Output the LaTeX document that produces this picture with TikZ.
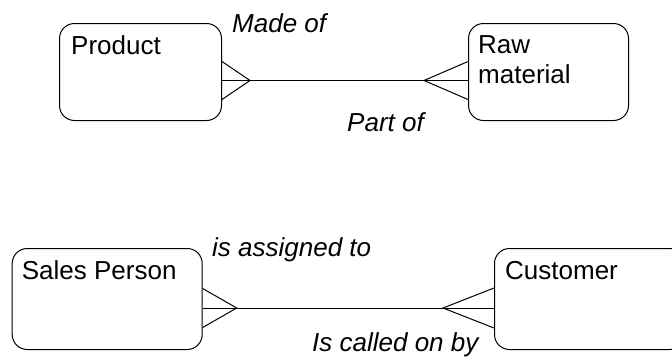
\documentclass[tikz,border=0pt]{standalone}
\usepackage{fontspec}
\setmainfont{Liberation Sans}
\usetikzlibrary{calc}
\begin{document}
\begin{tikzpicture}[x=1pt,y=-1pt,
  entity/.style={draw, rounded corners=15pt, line width=1pt, inner sep=0pt,
    anchor=north west, minimum width=#1},
  entity/.default=162pt,
  etext/.style={anchor=base west, inner sep=0pt, align=left,
    font=\fontsize{26}{30}\selectfont},
  rel/.style={anchor=base west, inner sep=0pt,
    font=\fontsize{26}{30}\selectfont\itshape},
  link/.style={line width=1pt, line join=miter}]
  \useasboundingbox (0,0) rectangle (672,360);
  \clip (0,0) rectangle (672,360);

  % entities
  \node[entity=162pt, minimum height=97pt]  (prod)  at (59,23)    {};
  \node[entity=160pt, minimum height=97pt]  (raw)   at (468,23)   {};
  \node[entity=190pt, minimum height=101pt] (sales) at (11.7,248) {};
  \node[entity=190pt, minimum height=101pt] (cust)  at (494,248)  {};

  % entity names
  \node[etext] (prodname)  at (71,54)     {Product};
  \node[etext] (rawname)   at (478,53.3)  {Raw};
  \node[etext] (rawname2)  at (478,83.3)  {material};
  \node[etext] (salesname) at (21.7,279.3) {Sales Person};
  \node[etext] (custname)  at (505,279.3) {Customer};

  % relationship names
  \node[rel] (madeof)   at (232,32.3)   {Made of};
  \node[rel] (partof)   at (347,131.7)  {Part of};
  \node[rel] (assigned) at (212,256.7)  {is assigned to};
  \node[rel] (calledon) at (312,351.7)  {Is called on by};

  % attachment points of the connectors
  \coordinate (pa) at ($(prod.east)+(0,8.5)$);
  \coordinate (rb) at ($(raw.west)+(0,8.5)$);
  \coordinate (sa) at ($(sales.east)+(0,9)$);
  \coordinate (cb) at ($(cust.west)+(0,9)$);

  % many-to-many: product / raw material
  \draw[link] (pa) -- (rb);
  \draw[link] ($(pa)+(0,-19)$) -- ($(pa)+(28,0)$) -- ($(pa)+(0,19)$);
  \draw[link] ($(rb)+(0,-19)$) -- ($(rb)+(-44,0)$) -- ($(rb)+(0,19)$);

  % many-to-many: sales person / customer
  \draw[link] (sa) -- (cb);
  \draw[link] ($(sa)+(0,-19.5)$) -- ($(sa)+(34,0)$) -- ($(sa)+(0,19.5)$);
  \draw[link] ($(cb)+(0,-20)$) -- ($(cb)+(-51,0)$) -- ($(cb)+(0,20)$);
\end{tikzpicture}
\end{document}
